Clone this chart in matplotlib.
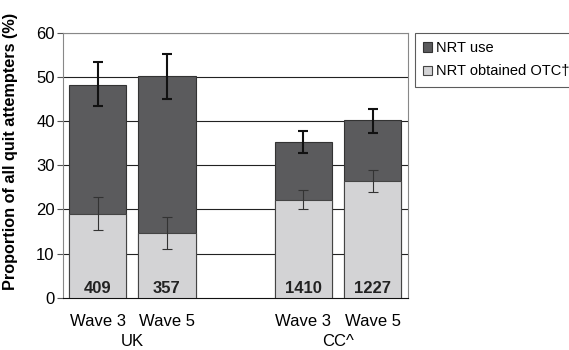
import numpy as np
import matplotlib.pyplot as plt
import matplotlib.transforms as mtransforms

plt.rcParams['font.family'] = ['Liberation Sans', 'DejaVu Sans']

waves = ['Wave 3', 'Wave 5', 'Wave 3', 'Wave 5']
groups = ['UK', 'CC^']
counts = ['409', '357', '1410', '1227']
nrt_use = [48.3, 50.2, 35.2, 40.3]
nrt_use_lo = [43.4, 45.0, 32.7, 37.3]
nrt_use_hi = [53.4, 55.3, 37.8, 42.8]
nrt_otc = [18.9, 14.6, 22.1, 26.5]
nrt_otc_lo = [15.3, 11.0, 20.1, 24.0]
nrt_otc_hi = [22.9, 18.3, 24.5, 29.0]

pos = np.array([0, 1, 2.97, 3.97])
dark = '#5b5b5d'
light = '#d3d3d5'

fig = plt.figure(figsize=(5.69, 3.5), dpi=100)
ax = fig.add_axes([0.1107, 0.1497, 0.6063, 0.756])

for y in range(10, 61, 10):
    ax.axhline(y, color='#222222' if y < 60 else '#888888', lw=0.8, zorder=0)

w = 0.83
ax.bar(pos, nrt_use, width=w, color=dark, edgecolor='#333333', lw=0.8,
       zorder=2, label='NRT use')
ax.bar(pos, nrt_otc, width=w, color=light, edgecolor='#444444', lw=0.8,
       zorder=3, label='NRT obtained OTC\u2020')

use = np.array(nrt_use)
otc = np.array(nrt_otc)
ax.errorbar(pos, use, yerr=[use - np.array(nrt_use_lo), np.array(nrt_use_hi) - use],
            fmt='none', ecolor='#111111', elinewidth=1.5, capsize=3.5, capthick=1.5, zorder=4)
ax.errorbar(pos, otc, yerr=[otc - np.array(nrt_otc_lo), np.array(nrt_otc_hi) - otc],
            fmt='none', ecolor='#333333', elinewidth=0.8, capsize=3.5, capthick=0.8, zorder=4)

for p, c in zip(pos, counts):
    ax.text(p, 0.3, c, ha='center', va='bottom', fontsize=12, fontweight='bold',
            color='#222222', zorder=5)

ax.set_xlim(-0.5, 4.48)
ax.set_ylim(0, 60)
ax.set_yticks(range(0, 61, 10))
ax.tick_params(axis='y', labelsize=12, length=4, width=0.8, color='#555555', pad=2)
ax.set_xticks([])
for s in ['top', 'right', 'left']:
    ax.spines[s].set_color('#888888')
    ax.spines[s].set_linewidth(0.8)
ax.spines['bottom'].set_color('#111111')
ax.set_ylabel('Proportion of all quit attempters (%)', fontsize=11.7, fontweight='bold')
ax.yaxis.set_label_coords(-0.13, 0.554)

trans = mtransforms.blended_transform_factory(ax.transData, fig.transFigure)
for p, wv in zip(pos, waves):
    ax.text(p, 1 - 321 / 350, wv, transform=trans, ha='center', va='center', fontsize=12)
ax.text(pos[:2].mean(), 1 - 342 / 350, groups[0], transform=trans, ha='center', va='center', fontsize=12)
ax.text(pos[2:].mean(), 1 - 342 / 350, groups[1], transform=trans, ha='center', va='center', fontsize=12)

handles, labels = ax.get_legend_handles_labels()
leg = fig.legend(handles, labels, loc='upper left', bbox_to_anchor=(415 / 569, 1 - 33 / 350),
                 fontsize=10.5, frameon=True, fancybox=False, edgecolor='#333333',
                 handlelength=0.6, handleheight=0.6, handletextpad=0.3, borderpad=0.55,
                 labelspacing=0.65, borderaxespad=0)
leg.get_frame().set_linewidth(0.8)

fig.savefig('out.png', dpi=100)
